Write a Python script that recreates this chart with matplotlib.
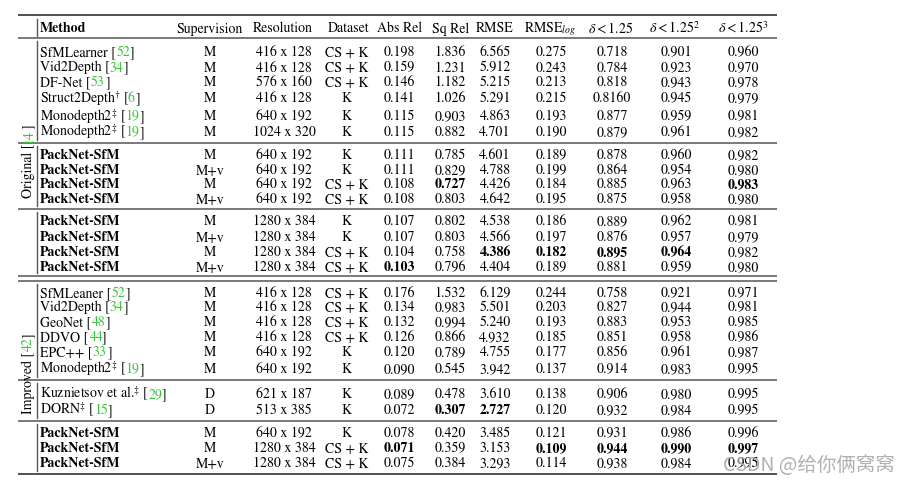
import re
import numpy as np
import matplotlib
matplotlib.use("Agg")
import matplotlib.pyplot as plt

#--- data ---#
methods = [
    "SfMLearner [52]", "Vid2Depth [34]", "DF-Net [53]", r"Struct2Depth$^{\dagger}$ [6]",
    r"Monodepth2$^{\ddagger}$ [19]", r"Monodepth2$^{\ddagger}$ [19]",
    "PackNet-SfM", "PackNet-SfM", "PackNet-SfM", "PackNet-SfM",
    "PackNet-SfM", "PackNet-SfM", "PackNet-SfM", "PackNet-SfM",
    "SfMLeaner [52]", "Vid2Depth [34]", "GeoNet [48]", "DDVO [44]", "EPC++ [33]",
    r"Monodepth2$^{\ddagger}$ [19]",
    r"Kuznietsov et al.$^{\ddagger}$ [29]", r"DORN$^{\ddagger}$ [15]",
    "PackNet-SfM", "PackNet-SfM", "PackNet-SfM",
]
supervision = ["M", "M", "M", "M", "M", "M",
               "M", "M+v", "M", "M+v",
               "M", "M+v", "M", "M+v",
               "M", "M", "M", "M", "M", "M",
               "D", "D",
               "M", "M", "M+v"]
resolution = ["416 x 128", "416 x 128", "576 x 160", "416 x 128", "640 x 192", "1024 x 320",
              "640 x 192", "640 x 192", "640 x 192", "640 x 192",
              "1280 x 384", "1280 x 384", "1280 x 384", "1280 x 384",
              "416 x 128", "416 x 128", "416 x 128", "416 x 128", "640 x 192", "640 x 192",
              "621 x 187", "513 x 385",
              "640 x 192", "1280 x 384", "1280 x 384"]
dataset = ["CS + K", "CS + K", "CS + K", "K", "K", "K",
           "K", "K", "CS + K", "CS + K",
           "K", "K", "CS + K", "CS + K",
           "CS + K", "CS + K", "CS + K", "CS + K", "K", "K",
           "K", "K",
           "K", "CS + K", "CS + K"]
abs_rel = ["0.198", "0.159", "0.146", "0.141", "0.115", "0.115",
           "0.111", "0.111", "0.108", "0.108",
           "0.107", "0.107", "0.104", "0.103",
           "0.176", "0.134", "0.132", "0.126", "0.120", "0.090",
           "0.089", "0.072",
           "0.078", "0.071", "0.075"]
sq_rel = ["1.836", "1.231", "1.182", "1.026", "0.903", "0.882",
          "0.785", "0.829", "0.727", "0.803",
          "0.802", "0.803", "0.758", "0.796",
          "1.532", "0.983", "0.994", "0.866", "0.789", "0.545",
          "0.478", "0.307",
          "0.420", "0.359", "0.384"]
rmse = ["6.565", "5.912", "5.215", "5.291", "4.863", "4.701",
        "4.601", "4.788", "4.426", "4.642",
        "4.538", "4.566", "4.386", "4.404",
        "6.129", "5.501", "5.240", "4.932", "4.755", "3.942",
        "3.610", "2.727",
        "3.485", "3.153", "3.293"]
rmse_log = ["0.275", "0.243", "0.213", "0.215", "0.193", "0.190",
            "0.189", "0.199", "0.184", "0.195",
            "0.186", "0.197", "0.182", "0.189",
            "0.244", "0.203", "0.193", "0.185", "0.177", "0.137",
            "0.138", "0.120",
            "0.121", "0.109", "0.114"]
d1 = ["0.718", "0.784", "0.818", "0.8160", "0.877", "0.879",
      "0.878", "0.864", "0.885", "0.875",
      "0.889", "0.876", "0.895", "0.881",
      "0.758", "0.827", "0.883", "0.851", "0.856", "0.914",
      "0.906", "0.932",
      "0.931", "0.944", "0.938"]
d2 = ["0.901", "0.923", "0.943", "0.945", "0.959", "0.961",
      "0.960", "0.954", "0.963", "0.958",
      "0.962", "0.957", "0.964", "0.959",
      "0.921", "0.944", "0.953", "0.958", "0.961", "0.983",
      "0.980", "0.984",
      "0.986", "0.990", "0.984"]
d3 = ["0.960", "0.970", "0.978", "0.979", "0.981", "0.982",
      "0.982", "0.980", "0.983", "0.980",
      "0.981", "0.979", "0.982", "0.980",
      "0.971", "0.981", "0.985", "0.986", "0.987", "0.995",
      "0.995", "0.995",
      "0.996", "0.997", "0.995"]

headers = ["Supervision", "Resolution", "Dataset", "Abs Rel", "Sq Rel", "RMSE",
           r"RMSE$_{log}$", r"$\delta < 1.25$", r"$\delta < 1.25^2$", r"$\delta < 1.25^3$"]
group_sizes = [6, 4, 4, 6, 2, 3]
# (row, column) of bold entries; column 3 = Abs Rel ... 9 = delta^3
bold_cells = [(8, 4), (8, 9), (12, 5), (12, 6), (12, 7), (12, 8), (13, 3),
              (21, 4), (21, 5), (23, 3), (23, 6), (23, 7), (23, 8), (23, 9)]
side_labels = ["Original [14]", "Improved [42]"]

#--- layout (pixels) ---#
W, H = 908, 485
row_y = [52, 67, 82, 98, 116, 132,
         155, 170, 184, 199,
         221, 237, 252, 267,
         293, 307, 322, 337, 352, 369,
         394, 410,
         433, 448, 463]
header_y = 28
col_x = [210, 284, 347, 399, 450, 495, 551, 612, 676, 743]
head_x = [210, 283, 349, 400, 451, 495, 550, 611, 675, 743]
method_x = 40
bar_x = 37
rule_x0, rule_x1 = 18, 777
rules = [16, 39, 144, 210, 277, 282, 381, 422, 475]
side_centers = [(32, 163), (32, 375)]
green = '#3cc43c'
base_off = 4.5  # row center -> baseline

plt.rcParams['font.family'] = 'STIXGeneral'
plt.rcParams['mathtext.fontset'] = 'stix'
plt.rcParams['font.size'] = 10


def pixel_axes():
    f = plt.figure(figsize=(W / 100, H / 100), dpi=100)
    a = f.add_axes([0, 0, 1, 1])
    a.set_xlim(0, W)
    a.set_ylim(H, 0)
    a.axis('off')
    return f, a


# scratch canvas: measure where the ink really ends, so the coloured pieces join up
scratch, sax = pixel_axes()


def ink_cols(s):
    t = sax.text(100, 100, s, ha='left', va='baseline')
    scratch.canvas.draw()
    img = np.asarray(scratch.canvas.buffer_rgba())[:, :, 0]
    t.remove()
    return np.where((img < 140).any(axis=0))[0]


def ink_right(s):
    return ink_cols(s).max()


def ink_length(s):
    cols = ink_cols(s)
    return cols.max() - cols.min()


fig, ax = pixel_axes()


def draw_cited(x, y, label, rotate=False):
    # black text, green citation number, black bracket
    m = re.match(r'(.*\[)(\d+)(\])$', label)
    pieces = [(m.group(1), 'black'), (m.group(2), green), (m.group(3), 'black')]
    acc = ''
    for s, color in pieces:
        acc += s
        off = ink_right(acc) - ink_right(s)
        if rotate:
            ax.text(x, y - off, s, color=color, rotation=90, rotation_mode='anchor',
                    ha='left', va='baseline')
        else:
            ax.text(x + off, y, s, color=color, ha='left', va='baseline')


# rules
for i, y in enumerate(rules):
    outer = i in (0, len(rules) - 1)
    ax.plot([rule_x0, rule_x1], [y, y], color='#333333' if outer else '#555555',
            lw=1.2 if outer else 1.1, solid_capstyle='butt')

# vertical bars between rules
ax.plot([bar_x, bar_x], [20, 37], color='#555555', lw=1.0)
seg_bounds = [(39, 144), (144, 210), (210, 277), (282, 381), (381, 422), (422, 475)]
for y0, y1 in seg_bounds:
    ax.plot([bar_x, bar_x], [y0 + 3, y1 - 3], color='#555555', lw=1.0)

# header
ax.text(method_x, header_y + base_off, "Method", weight='bold', ha='left', va='baseline')
for hx, h in zip(head_x, headers):
    ax.text(hx, header_y + base_off, h, ha='center', va='baseline')

# rows
columns = [supervision, resolution, dataset, abs_rel, sq_rel, rmse, rmse_log, d1, d2, d3]
for r, name in enumerate(methods):
    yb = row_y[r] + base_off
    if '[' in name:
        draw_cited(method_x, yb, name)
    else:
        ax.text(method_x, yb, name, weight='bold', ha='left', va='baseline')
    for c, (cx, col) in enumerate(zip(col_x, columns)):
        wt = 'bold' if (r, c) in bold_cells else 'normal'
        ax.text(cx, yb, col[r], weight=wt, ha='center', va='baseline')

# rotated side labels
for (lx, cy), lab in zip(side_centers, side_labels):
    total = ink_length(lab)
    draw_cited(lx, round(cy + total / 2), lab, rotate=True)

# watermark
ax.text(723, 471, "CSDN @给你俩窝窝", family=['Noto Sans CJK SC', 'DejaVu Sans'],
        fontsize=14, color='#a8a8a8', alpha=0.9, ha='left', va='baseline')

fig.savefig("out.png", dpi=100)
